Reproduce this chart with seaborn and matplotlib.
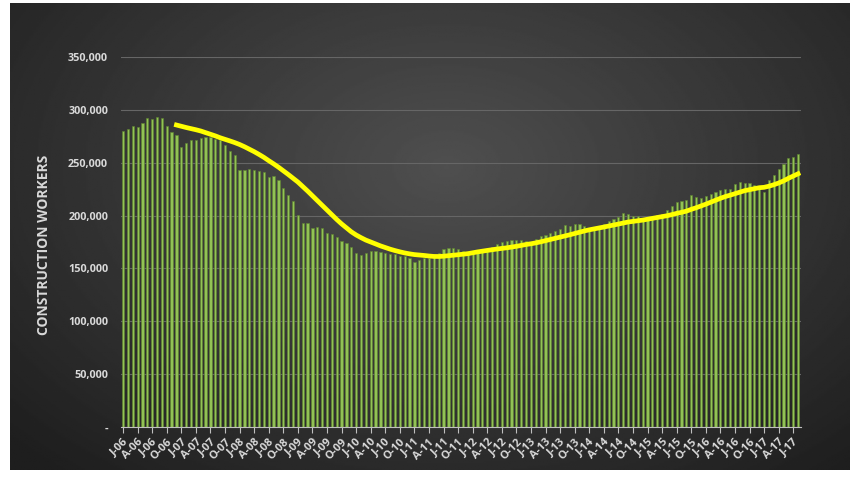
import numpy as np
import pandas as pd
import matplotlib
matplotlib.use('Agg')
import matplotlib.pyplot as plt
import seaborn as sns
from matplotlib.ticker import FuncFormatter

# monthly construction workers, Jan 2006 - Aug 2017
workers_2006 = [279800, 282300, 284500, 283900, 287700, 292500, 291200, 293400, 292500, 284500, 279200, 276600]
workers_2007 = [264900, 268700, 271900, 271200, 273500, 274400, 274400, 272800, 271200, 267100, 260800, 257600]
workers_2008 = [243400, 243400, 244300, 242700, 242100, 241200, 236700, 237000, 233200, 226200, 219600, 214000]
workers_2009 = [200600, 192700, 192700, 187800, 188900, 187800, 183500, 182500, 179400, 176200, 174000, 169800]
workers_2010 = [164400, 162500, 165000, 166600, 166600, 165700, 165000, 163500, 163500, 161900, 161300, 159400]
workers_2011 = [156200, 158100, 159400, 160300, 161900, 165000, 168300, 168900, 168900, 168300, 166600, 165700]
workers_2012 = [166600, 167600, 168300, 168300, 169800, 173000, 174600, 176200, 177100, 177100, 177100, 176200]
workers_2013 = [174600, 177800, 180300, 181600, 183500, 185700, 187300, 191100, 189800, 192000, 192000, 189800]
workers_2014 = [187300, 188900, 190400, 192000, 195200, 196800, 198400, 202500, 201500, 199300, 199300, 196800]
workers_2015 = [197400, 198400, 200600, 201500, 205600, 209400, 212600, 214200, 215100, 219600, 217400, 216400]
workers_2016 = [218300, 220500, 222100, 224600, 225300, 225300, 230000, 232200, 231000, 231000, 229100, 226900]
workers_2017 = [222700, 233200, 238600, 244300, 249100, 254500, 255400, 258600]

month_letters = ['J', 'F', 'M', 'A', 'M', 'J', 'J', 'A', 'S', 'O', 'N', 'D']
first_year = 2006

workers = (workers_2006 + workers_2007 + workers_2008 + workers_2009 + workers_2010 + workers_2011
           + workers_2012 + workers_2013 + workers_2014 + workers_2015 + workers_2016 + workers_2017)
n = len(workers)
pos = np.arange(n)
labels = [f"{month_letters[i % 12]}-{str(first_year + i // 12)[2:]}" for i in range(n)]

df = pd.DataFrame({'pos': pos, 'workers': workers})
# 12 month moving average trendline
df['trend'] = df['workers'].rolling(12).mean()

plt.rcParams['font.family'] = ['Open Sans', 'DejaVu Sans']

fig = plt.figure(figsize=(8.6, 4.82), dpi=100)
fig.patch.set_facecolor('white')

# dark radial gradient background
bg = fig.add_axes([10 / 860, 12 / 482, 840 / 860, 467 / 482])
yy, xx = np.mgrid[0:1:300j, 0:1:500j]
r = np.sqrt(((xx - 0.52) / 0.75) ** 2 + ((yy - 0.35) / 0.9) ** 2)
shade = np.clip(0.31 - 0.2 * r, 0.12, 0.31)
bg.imshow(shade, cmap='gray', vmin=0, vmax=1, aspect='auto', extent=[0, 1, 1, 0])
bg.axis('off')

ax = fig.add_axes([120.6 / 860, 55 / 482, 679.9 / 860, 370 / 482])
ax.patch.set_alpha(0)

sns.barplot(data=df, x='pos', y='workers', ax=ax, color='#92c255', saturation=1,
            width=0.45, edgecolor='#5f852f', linewidth=0.4)
sns.lineplot(data=df, x='pos', y='trend', ax=ax, color='#ffff00', linewidth=3.4)

ax.set_xlim(-0.5, n - 0.5)
ax.set_ylim(0, 350000)
ax.set_yticks(np.arange(0, 350001, 50000))
ax.yaxis.set_major_formatter(FuncFormatter(lambda v, p: '-' if v == 0 else f'{v:,.0f}'))

ticks = pos[::3]
ax.set_xticks(ticks)
ax.set_xticklabels([labels[i] for i in ticks], rotation=45, ha='right', rotation_mode='anchor')

ax.grid(axis='y', color='#666666', linewidth=0.8)
ax.grid(axis='x', visible=False)
ax.set_axisbelow(True)
for s in ['top', 'right', 'left']:
    ax.spines[s].set_visible(False)
ax.spines['bottom'].set_color('#bfbfbf')
ax.spines['bottom'].set_linewidth(0.8)

ax.tick_params(axis='y', length=0, labelcolor='#d9d9d9', labelsize=7.8, pad=9)
ax.tick_params(axis='x', length=4, color='#bfbfbf', labelcolor='#d9d9d9', labelsize=8, pad=3)
plt.setp(ax.get_yticklabels(), fontweight='bold')
plt.setp(ax.get_xticklabels(), fontweight='bold')

ax.set_xlabel('')
ax.set_ylabel('')
fig.text(44 / 860, 1 - 245 / 482, 'CONSTRUCTION WORKERS', rotation=90, ha='center', va='center',
         color='#d9d9d9', fontsize=10, fontweight='bold')

fig.savefig('out.png', dpi=100)
